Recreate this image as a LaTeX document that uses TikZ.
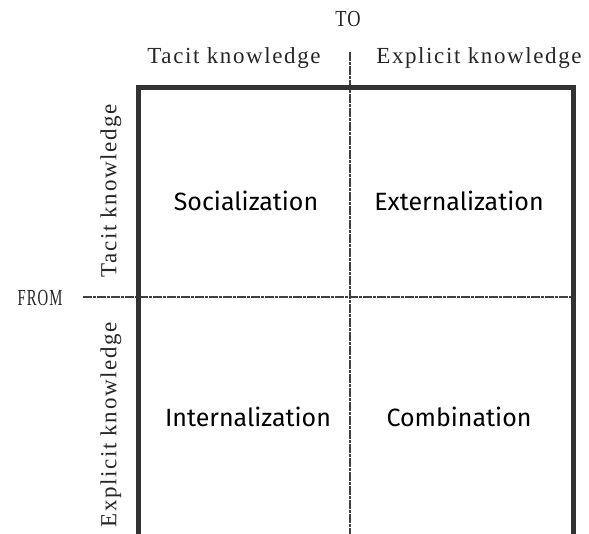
\documentclass[tikz,border=0pt]{standalone}
\usepackage{fontspec}
\setmainfont{Liberation Serif}[LetterSpace=7]
\newfontfamily\quadfont{Fira Sans}
\usetikzlibrary{positioning}

\begin{document}
\begin{tikzpicture}[x=1pt,y=-1pt,
	axis/.style={font=\fontsize{23}{23}\selectfont, text=black!85, inner sep=0pt},
	mode/.style={font=\quadfont\fontsize{25}{25}\selectfont, inner sep=0pt},
	split/.style={line width=1.2pt, draw=black!75, dash pattern=on 9pt off 1pt on 3pt off 1pt}]
	\useasboundingbox (0,0) rectangle (589,534);
	
	\coordinate (nw) at (138,88);
	\coordinate (se) at (573,560);
	\coordinate (vtop) at (350,52);
	\coordinate (vbot) at (350,560);
	\coordinate (hleft) at (83,297);
	\coordinate (hright) at (573,297);
	
	\node[axis] (to) at (348,19) {\scalebox{0.8}[1]{TO}};
	\node[axis] (toTacit) at (234,58) {Tacit knowledge};
	\node[axis] (toExplicit) at (479,58) {Explicit knowledge};
	\node[axis] (from) at (40,298) {\scalebox{0.64}[1]{FROM}};
	\node[axis, rotate=90] (fromTacit) at (111,191) {Tacit knowledge};
	\node[axis, rotate=90] (fromExplicit) at (111,425) {Explicit knowledge};
	
	\node[mode] (soc) at (246,201) {Socialization};
	\node[mode] (ext) at (459,201) {Externalization};
	\node[mode] (int) at (248,417) {Internalization};
	\node[mode] (com) at (459,417) {Combination};
	
	\draw[split] (vtop) -- (vbot);
	\draw[split] (hleft) -- (hright);
	\draw[line width=5pt, draw=black!80] (nw) rectangle (se);
\end{tikzpicture}
\end{document}
